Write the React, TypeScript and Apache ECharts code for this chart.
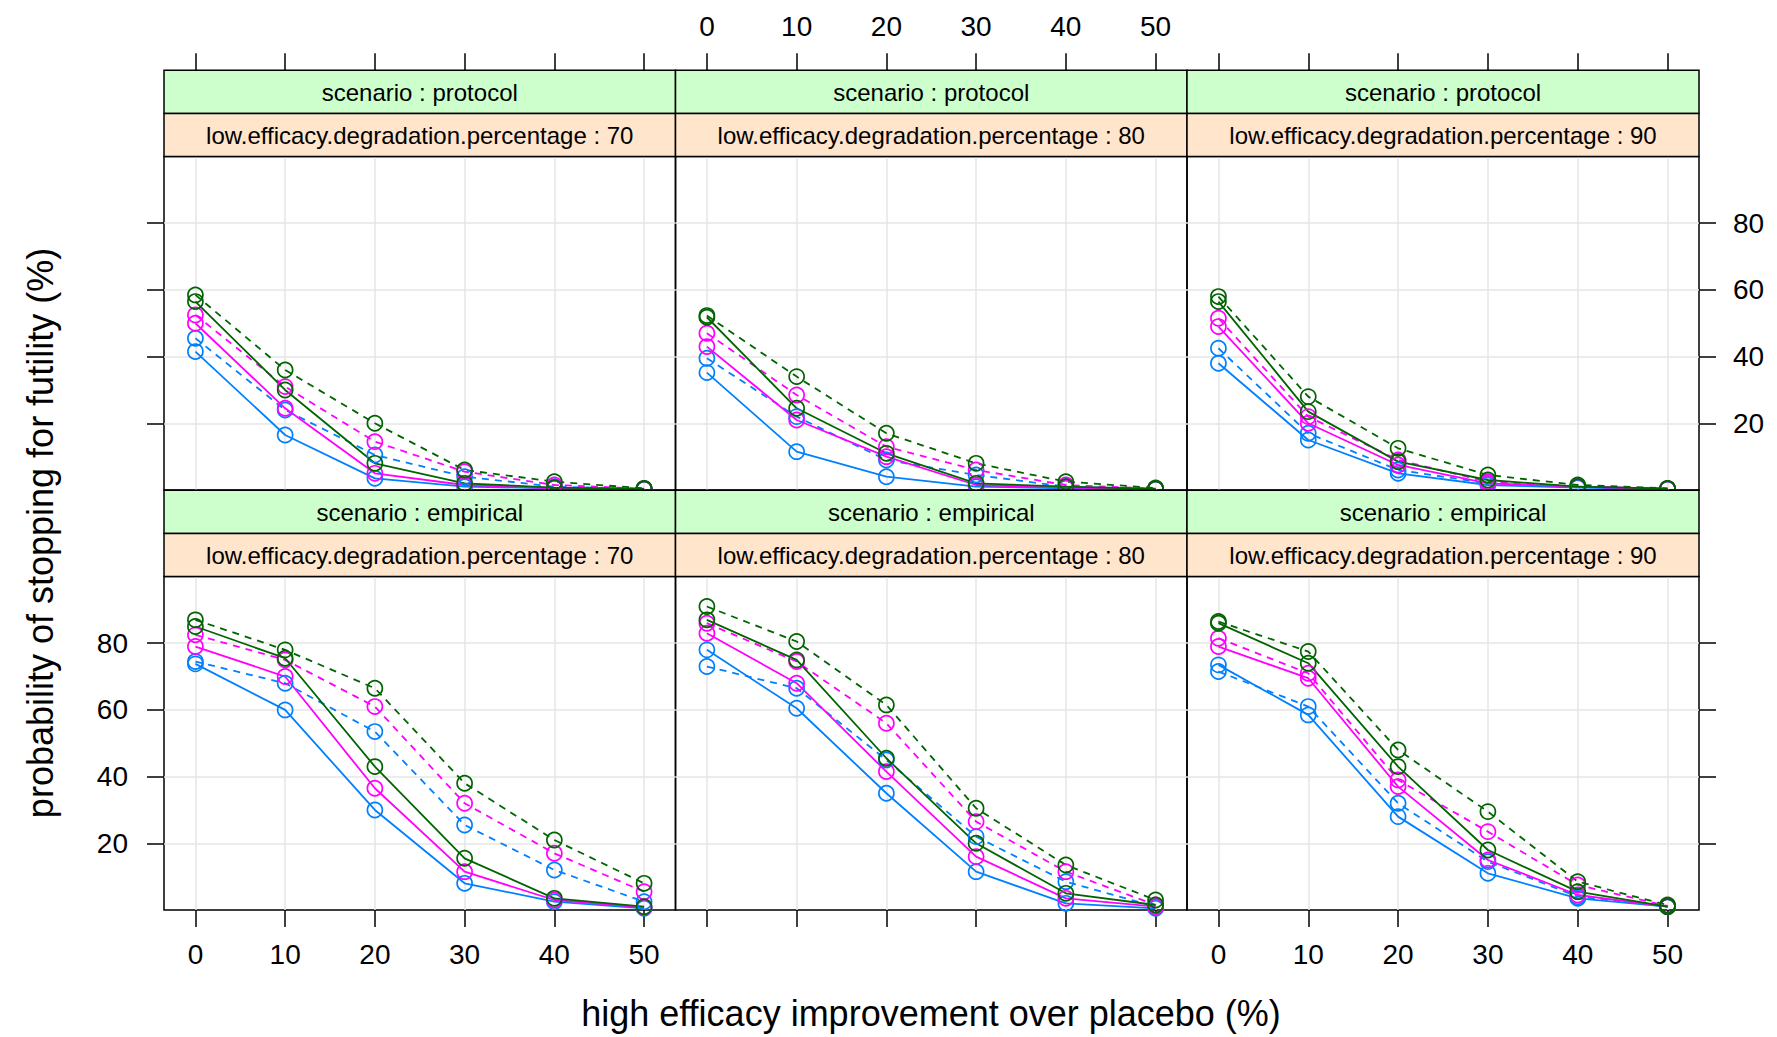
import React, { useEffect, useRef } from "react";
import * as echarts from "echarts";

// ---- data ----
const effImprovement = [0, 10, 20, 30, 40, 50];
const xTicks = [0, 10, 20, 30, 40, 50];
const yTicks = [20, 40, 60, 80];
const scenarios = ["protocol", "empirical"];
const degradation = [70, 80, 90];
const groupColors = ["#0080ff", "#ff00ff", "#006400"];

// rows: blue solid, blue dashed, magenta solid, magenta dashed, green solid, green dashed
const protocol70 = [
  [41.5, 16.5, 3.5, 1, 0.5, 0.3],
  [45.5, 24, 10.5, 4, 1, 0.3],
  [50, 24.5, 5, 1.5, 0.5, 0.3],
  [52.5, 31, 14.5, 5.5, 1.5, 0.4],
  [56.5, 30, 8, 2, 0.7, 0.3],
  [58.5, 36, 20, 6, 2.5, 0.5],
];
const protocol80 = [
  [35.2, 11.5, 4, 1, 0.5, 0.3],
  [39.5, 22, 9, 4.5, 1, 0.3],
  [43, 21, 10, 1.5, 0.7, 0.3],
  [47, 28.5, 13, 6, 1.5, 0.4],
  [51.8, 24.5, 11, 2, 1, 0.3],
  [52.3, 34, 17, 8, 2.5, 0.6],
];
const protocol90 = [
  [38, 15, 5, 1.5, 0.7, 0.3],
  [42.5, 17, 6, 2, 1, 0.3],
  [49, 20, 7.5, 2, 1, 0.3],
  [51.5, 22, 9, 2.5, 1, 0.4],
  [56.5, 23.5, 8.5, 3, 1, 0.4],
  [58, 28, 12.5, 4.5, 1.5, 0.5],
];
const empirical70 = [
  [73.8, 60, 30, 8, 2.5, 0.5],
  [74.5, 68, 53.5, 25.5, 12, 2.5],
  [79, 70, 36.5, 11.5, 3, 0.8],
  [82.5, 75, 61, 32, 17, 5.5],
  [85, 75.5, 43, 15.5, 3.5, 1],
  [87, 78, 66.5, 38, 21, 8],
];
const empirical80 = [
  [78, 60.5, 35, 11.5, 2, 0.5],
  [73, 66.5, 45, 22, 8.5, 1],
  [83, 68, 41.5, 16, 3.5, 1],
  [86, 74.5, 56, 26.5, 11.5, 1.5],
  [87, 75, 45.5, 20, 5, 1.5],
  [91, 80.5, 61.5, 30.5, 13.5, 3],
];
const empirical90 = [
  [73.5, 58.5, 28, 11, 3.5, 1],
  [71.5, 61, 32, 14.5, 4, 1],
  [79, 69.5, 37, 15, 4.5, 1],
  [81.5, 71, 39, 23.5, 7.5, 1.2],
  [86, 74, 43, 18, 5.5, 1],
  [86.5, 77.5, 48, 29.5, 8.5, 1.5],
];
const panelData = [
  [protocol70, protocol80, protocol90],
  [empirical70, empirical80, empirical90],
];

// ---- layout ----
const COL_LEFT = [164, 675.5, 1187];
const COL_W = [511.5, 511.5, 512];
const ROW_TOP = [156.5, 576.5];
const ROW_H = [333.5, 333.5];
const STRIP_H = 43.1;
const FONT = "'Liberation Sans', Arial, sans-serif";

export default function App() {
  const ref = useRef<HTMLDivElement>(null);
  useEffect(() => {
    if (!ref.current) return;
    const chart = echarts.init(ref.current, null, { renderer: "svg" });
    const grids: any[] = [];
    const xAxes: any[] = [];
    const yAxes: any[] = [];
    const series: any[] = [];
    const graphics: any[] = [];
    const tickStyle = { color: "#000", width: 1.5 };

    for (let r = 0; r < 2; r++) {
      for (let c = 0; c < 3; c++) {
        const i = r * 3 + c;
        grids.push({
          left: COL_LEFT[c],
          top: ROW_TOP[r],
          width: COL_W[c],
          height: ROW_H[r],
          show: true,
          borderColor: "#000",
          borderWidth: 1.5,
          backgroundColor: "transparent",
          containLabel: false,
        });
        xAxes.push({
          gridIndex: i,
          type: "value",
          min: -3.5,
          max: 53.5,
          position: "bottom",
          axisLine: { show: false, onZero: false },
          axisTick: { show: r === 1, customValues: xTicks, length: 17, lineStyle: tickStyle },
          axisLabel: {
            show: r === 1 && c !== 1,
            customValues: xTicks,
            margin: 30,
            fontSize: 28,
            color: "#000",
            fontFamily: FONT,
          },
          splitLine: { show: true, lineStyle: { color: "#e6e6e6", width: 1.5 } },
        });
        yAxes.push({
          gridIndex: i,
          type: "value",
          min: 0,
          max: 100,
          position: c === 2 ? "right" : "left",
          axisLine: { show: false, onZero: false },
          axisTick: { show: c !== 1, customValues: yTicks, length: 17, lineStyle: tickStyle },
          axisLabel: {
            show: (c === 0 && r === 1) || (c === 2 && r === 0),
            customValues: yTicks,
            margin: c === 2 ? 34 : 36,
            fontSize: 28,
            color: "#000",
            fontFamily: FONT,
          },
          splitLine: { show: true, lineStyle: { color: "#e6e6e6", width: 1.5 } },
        });

        const rows = panelData[r][c];
        rows.forEach((vals, k) => {
          const color = groupColors[Math.floor(k / 2)];
          const dashed = k % 2 === 1;
          series.push({
            type: "line",
            xAxisIndex: i,
            yAxisIndex: i,
            data: effImprovement.map((x, j) => [x, vals[j]]),
            symbol: "circle",
            symbolSize: 15,
            silent: true,
            z: 3,
            lineStyle: { color, width: 1.8, type: dashed ? [7, 6] : "solid" },
            itemStyle: { color: "rgba(0,0,0,0)", borderColor: color, borderWidth: 1.7 },
            emphasis: { disabled: true },
          });
        });

        // strips
        const stripTop = ROW_TOP[r] - 2 * STRIP_H;
        const labels = ["scenario : " + scenarios[r], "low.efficacy.degradation.percentage : " + degradation[c]];
        const fills = ["#ccffcc", "#ffe5cc"];
        for (let s = 0; s < 2; s++) {
          graphics.push({
            type: "rect",
            z: 20,
            shape: { x: COL_LEFT[c], y: stripTop + s * STRIP_H, width: COL_W[c], height: STRIP_H },
            style: { fill: fills[s], stroke: "#000", lineWidth: 1.5 },
          });
          graphics.push({
            type: "text",
            z: 21,
            x: COL_LEFT[c] + COL_W[c] / 2,
            y: stripTop + s * STRIP_H + STRIP_H / 2 + 1,
            style: {
              text: labels[s],
              fill: "#000",
              font: `24px ${FONT}`,
              align: "center",
              verticalAlign: "middle",
            },
          });
        }
      }
    }
    // top axes for the top row (above the strips)
    for (let c = 0; c < 3; c++) {
      xAxes.push({
        gridIndex: c,
        type: "value",
        min: -3.5,
        max: 53.5,
        position: "top",
        offset: 2 * STRIP_H,
        axisLine: { show: false, onZero: false },
        axisTick: { show: true, customValues: xTicks, length: 17, lineStyle: tickStyle },
        axisLabel: {
          show: c === 1,
          customValues: xTicks,
          margin: 30,
          fontSize: 28,
          color: "#000",
          fontFamily: FONT,
        },
        splitLine: { show: false },
      });
    }

    graphics.push({
      type: "text",
      z: 21,
      x: 931,
      y: 1013,
      style: {
        text: "high efficacy improvement over placebo (%)",
        fill: "#000",
        font: `36px ${FONT}`,
        align: "center",
        verticalAlign: "middle",
      },
    });
    graphics.push({
      type: "text",
      z: 21,
      x: 40,
      y: 533,
      rotation: Math.PI / 2,
      style: {
        text: "probability of stopping for futility (%)",
        fill: "#000",
        font: `36px ${FONT}`,
        align: "center",
        verticalAlign: "middle",
      },
    });

    chart.setOption({
      animation: false,
      backgroundColor: "#fff",
      textStyle: { fontFamily: FONT },
      grid: grids,
      xAxis: xAxes,
      yAxis: yAxes,
      series,
      graphic: graphics,
    });
    return () => chart.dispose();
  }, []);
  return (
    <div
      ref={ref}
      style={{ position: "absolute", left: 0, top: 0, width: 1777, height: 1037 }}
    />
  );
}
